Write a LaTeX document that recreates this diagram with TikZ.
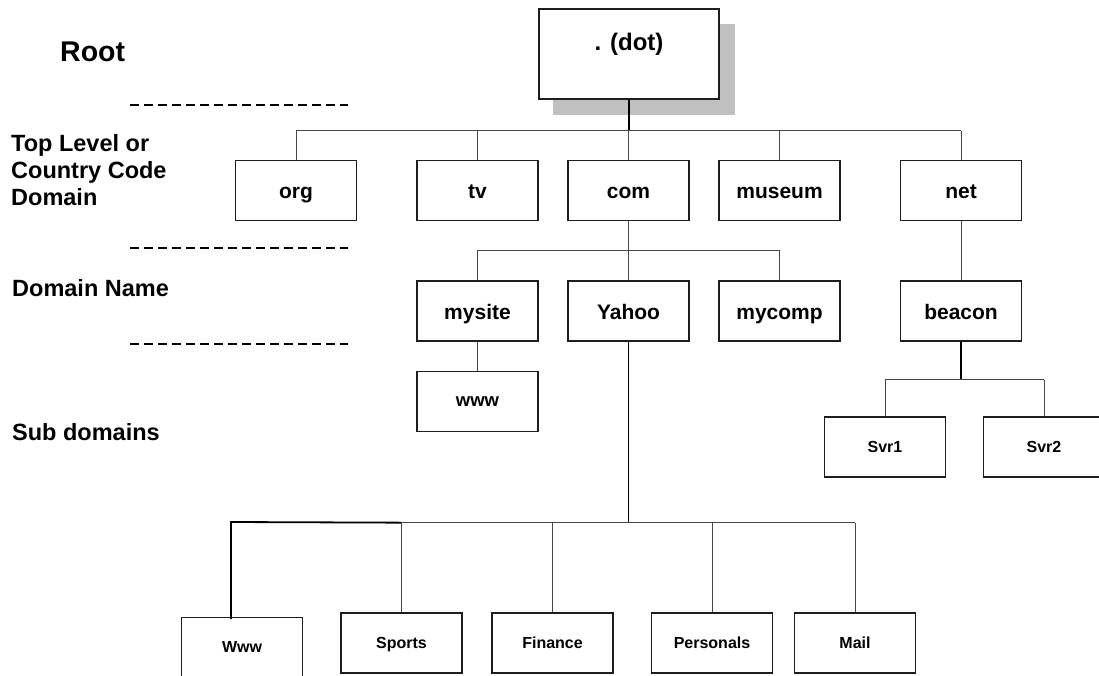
\documentclass[tikz,border=0pt]{standalone}
\usepackage{fontspec}
\setmainfont{Liberation Sans}
\definecolor{boxline}{RGB}{30,30,30}
\definecolor{linkgray}{RGB}{70,70,70}
\definecolor{shadowgray}{RGB}{192,192,192}
\begin{document}
\begin{tikzpicture}[x=1pt,y=-1pt,
  box/.style={draw=boxline, line width=1.3pt, fill=white, minimum width=121pt,
    minimum height=60pt, inner sep=0pt, text height=20pt, text depth=4pt,
    font=\bfseries\fontsize{21}{25}\selectfont},
  smallbox/.style={box, text height=14pt, text depth=4pt,
    font=\bfseries\fontsize{16}{19}\selectfont},
  link/.style={draw=linkgray, line width=1pt},
  busline/.style={draw=linkgray, line width=1.2pt},
  heavy/.style={draw=black, line width=1.8pt},
  tier/.style={anchor=west, align=left, inner sep=0pt,
    font=\bfseries\fontsize{23.5}{27}\selectfont},
  rule/.style={draw=black, line width=1.5pt, dash pattern=on 9pt off 5pt}]

\useasboundingbox (0,0) rectangle (1099,675);
\clip (0,0) rectangle (1099,675);

% tier captions on the left
\node[tier, font=\bfseries\fontsize{28.5}{32}\selectfont] (rootcap) at (60,52) {Root};
\node[tier] (tldcap) at (11,170) {Top Level or\\Country Code\\Domain};
\node[tier] (domcap) at (12,288) {Domain Name};
\node[tier] (subcap) at (12,432) {Sub domains};

% dashed separators between tiers
\coordinate (r1a) at (130,105); \coordinate (r1b) at (348,105);
\coordinate (r2a) at (130,248); \coordinate (r2b) at (348,248);
\coordinate (r3a) at (130,344); \coordinate (r3b) at (348,344);
\draw[rule] (r1a) -- (r1b);
\draw[rule] (r2a) -- (r2b);
\draw[rule] (r3a) -- (r3b);

% root box with drop shadow
\fill[shadowgray] (553,24) rectangle (735,115);
\node[box, minimum width=180pt, minimum height=90pt] (dot) at (629,54) {};
\node[font=\bfseries\fontsize{24}{28}\selectfont, inner sep=0pt, anchor=base]
  (dotlabel) at (629,50.5) {. (dot)};

% top level domains
\node[box] (org)    at (296,190.5)   {org};
\node[box] (tv)     at (477.5,190.5) {tv};
\node[box] (com)    at (628.5,190.5) {com};
\node[box] (museum) at (779.5,190.5) {museum};
\node[box] (net)    at (961,190.5)   {net};

% second level domains
\node[box] (mysite) at (477.5,311) {mysite};
\node[box] (yahoo)  at (628.5,311) {Yahoo};
\node[box] (mycomp) at (779.5,311) {mycomp};
\node[box] (beacon) at (961,311)   {beacon};

% sub domains
\node[box, text height=13pt, text depth=4pt,
      font=\bfseries\fontsize{18.5}{22}\selectfont] (wwwsite) at (477.5,401.5) {www};
\node[smallbox] (svr1) at (885,447)  {Svr1};
\node[smallbox] (svr2) at (1044,447) {Svr2};

\node[smallbox, text height=13pt] (wwwy) at (242,647.5) {Www};
\node[smallbox] (sports)    at (401.5,643) {Sports};
\node[smallbox] (finance)   at (552.5,643) {Finance};
\node[smallbox] (personals) at (712,643)   {Personals};
\node[smallbox] (mail)      at (855,643)   {Mail};

% junction points of the buses
\path (dot.south) ++(0,31) coordinate (topbus);
\path (com.south) ++(0,29) coordinate (combus);
\path (beacon.south) ++(0,38) coordinate (beaconbus);
\path (yahoo.south) ++(0,181) coordinate (ybus);
\coordinate (wwwjoin) at (231,522);
\coordinate (wwwend) at (231,619);

% root to top level
\draw[heavy] (dot.south) -- (topbus);
\draw[busline] (org.north |- topbus) -- (net.north |- topbus);
\foreach \n in {org,tv,com,museum,net}
  \draw[link] (\n.north |- topbus) -- (\n.north);

% com to its domains
\draw[link] (com.south) -- (combus);
\draw[link] (mysite.north |- combus) -- (mycomp.north |- combus);
\foreach \n in {mysite,yahoo,mycomp}
  \draw[link] (\n.north |- combus) -- (\n.north);

% mysite and net branches
\draw[link] (mysite.south) -- (wwwsite.north);
\draw[link] (net.south) -- (beacon.north);

% beacon servers
\draw[heavy] (beacon.south) -- (beaconbus);
\draw[link] (svr1.north |- beaconbus) -- (svr2.north |- beaconbus);
\foreach \n in {svr1,svr2}
  \draw[link] (\n.north |- beaconbus) -- (\n.north);

% Yahoo sub domains
\draw[heavy] (yahoo.south) -- (ybus);
\draw[link] (sports.north |- ybus) -- (mail.north |- ybus);
\foreach \n in {sports,finance,personals,mail}
  \draw[link] (\n.north |- ybus) -- (\n.north);
\draw[heavy] (sports.north |- ybus) -- (wwwjoin) -- (wwwend);
\end{tikzpicture}
\end{document}
